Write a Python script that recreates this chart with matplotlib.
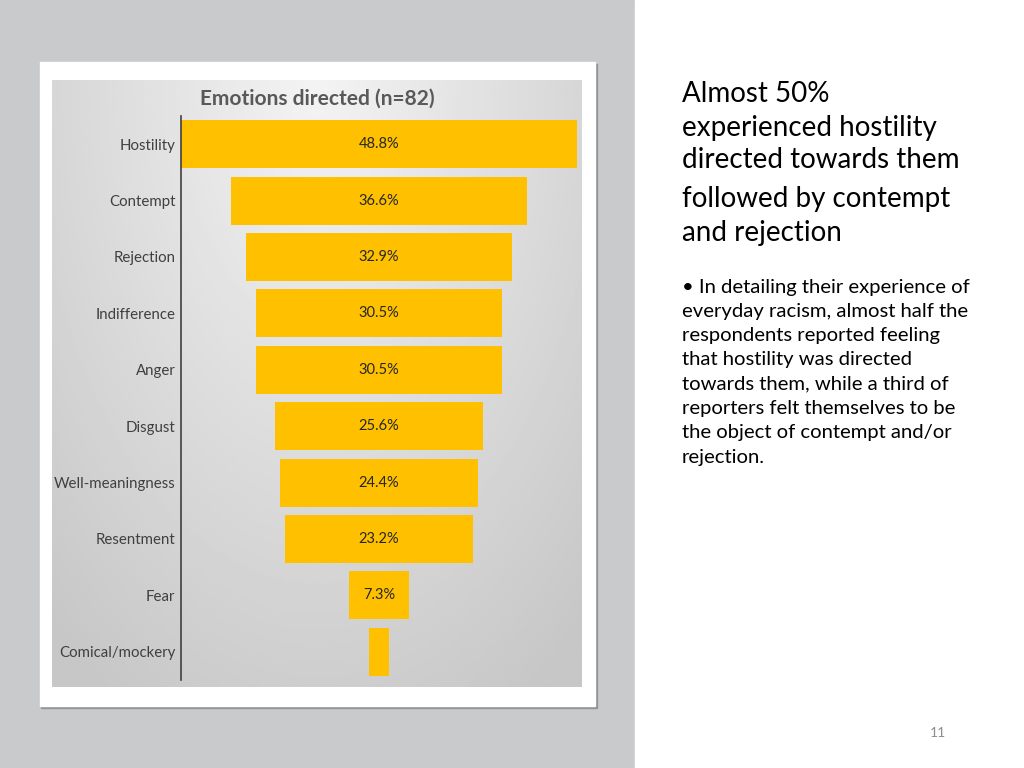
import matplotlib.pyplot as plt
import matplotlib.patches as mpatches
import numpy as np

# data
emotions = ['Hostility', 'Contempt', 'Rejection', 'Indifference', 'Anger',
            'Disgust', 'Well-meaningness', 'Resentment', 'Fear', 'Comical/mockery']
percent = [48.8, 36.6, 32.9, 30.5, 30.5, 25.6, 24.4, 23.2, 7.3, 2.4]
chart_title = 'Emotions directed (n=82)'

heading_lines = ['Almost 50%', 'experienced hostility', 'directed towards them',
                 'followed by contempt', 'and rejection']
heading_y = [94, 128, 160, 199, 233]
body_lines = ['\u2022 In detailing their experience of',
              'everyday racism, almost half the',
              'respondents reported feeling',
              'that hostility was directed',
              'towards them, while a third of',
              'reporters felt themselves to be',
              'the object of contempt and/or',
              'rejection.']
page_no = '11'

plt.rcParams['font.family'] = ['Lato', 'DejaVu Sans']

W, H = 1024, 768
fig = plt.figure(figsize=(W / 100, H / 100), dpi=100)


def fx(px):
    return px / W


def fy(py):
    return 1 - py / H


# slide background in pixel coords
bg = fig.add_axes([0, 0, 1, 1])
bg.set_xlim(0, W)
bg.set_ylim(H, 0)
bg.axis('off')
bg.add_patch(mpatches.Rectangle((0, 0), 635, H, color='#c9cacb', zorder=0))
bg.add_patch(mpatches.Rectangle((635, 0), W - 635, H, color='white', zorder=0))
# card shadow + card
bg.add_patch(mpatches.Rectangle((41, 64), 556, 644, color='#939495', zorder=1))
bg.add_patch(mpatches.Rectangle((40, 62), 555, 644, color='white', zorder=2))

# gradient chart area
gx0, gx1, gy0, gy1 = 52, 582, 80, 687
gax = fig.add_axes([fx(gx0), fy(gy1), fx(gx1 - gx0), (gy1 - gy0) / H])
gax.axis('off')
xx, yy = np.meshgrid(np.linspace(-1, 1, 200), np.linspace(0, 1, 200))
dist = np.sqrt((xx * 0.85) ** 2 + (yy * 1.1) ** 2)
shade = 0.955 - 0.175 * np.clip(dist, 0, 1.3) / 1.3
gax.imshow(shade, cmap='gray', vmin=0, vmax=1, aspect='auto', extent=(0, 1, 1, 0))
gax.set_xlim(0, 1)
gax.set_ylim(1, 0)
gax.text(0.5, (99 - gy0) / (gy1 - gy0), chart_title, ha='center', va='center',
         fontsize=15, fontweight='bold', color='#595959')

# funnel chart
ax_l, ax_r, ax_t, ax_b = 181, 577, 116, 680
ax = fig.add_axes([fx(ax_l), fy(ax_b), fx(ax_r - ax_l), (ax_b - ax_t) / H])
ax.patch.set_alpha(0)
y = np.arange(len(emotions))
vals = np.array(percent)
ax.barh(y, vals, left=-vals / 2, height=0.85, color='#ffc000')
for yi, v in zip(y, vals):
    if v >= 5:
        ax.text(0, yi, '{:.1f}%'.format(v), ha='center', va='center',
                fontsize=10.5, color='#262626')
ax.set_xlim(-vals[0] / 2 - 0.05, vals[0] / 2 + 0.05)
ax.set_ylim(len(emotions) - 0.5, -0.5)
ax.set_yticks(y)
ax.set_yticklabels(emotions, fontsize=10.8, color='#404040')
ax.tick_params(axis='y', length=0, pad=4)
ax.set_xticks([])
for s in ['top', 'right', 'bottom']:
    ax.spines[s].set_visible(False)
ax.spines['left'].set_color('#404040')
ax.spines['left'].set_linewidth(1.2)

# right-hand text
for line, ly in zip(heading_lines, heading_y):
    bg.text(682, ly, line, ha='left', va='center', fontsize=20, color='black')
for i, line in enumerate(body_lines):
    bg.text(682, 287 + i * 24.3, line, ha='left', va='center', fontsize=14.6, color='black')
bg.text(938, 733, page_no, ha='center', va='center', fontsize=10, color='#8c8c8c')

plt.savefig('out.png', dpi=100)
